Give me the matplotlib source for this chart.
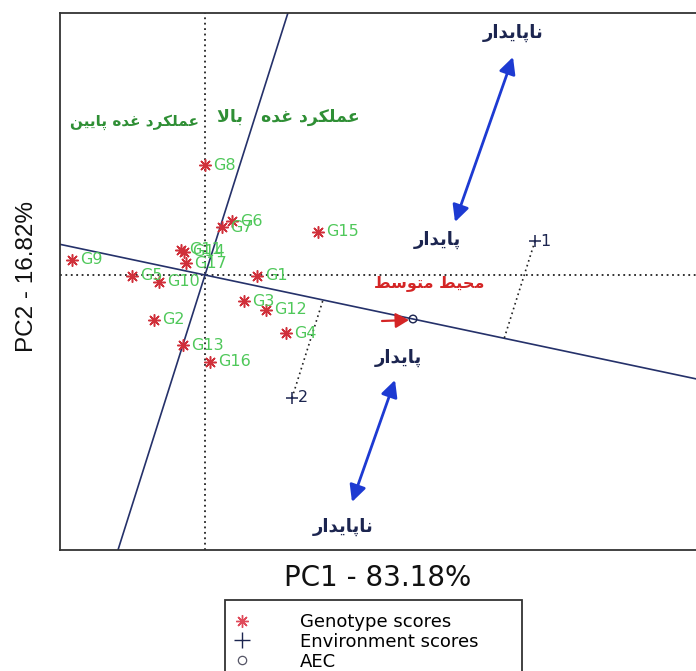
import matplotlib
matplotlib.use("Agg")
import matplotlib.pyplot as plt
from matplotlib.lines import Line2D
from matplotlib.patches import Rectangle
import numpy as np

# ---------------- data ----------------
genotypes = ["G1", "G2", "G3", "G4", "G5", "G6", "G7", "G8", "G9", "G10",
             "G11", "G12", "G13", "G14", "G15", "G16", "G17"]
gen_pc1 = [0.52, -0.51, 0.39, 0.81, -0.73, 0.27, 0.17, 0.00, -1.33, -0.46,
           -0.24, 0.61, -0.22, -0.21, 1.13, 0.05, -0.19]
gen_pc2 = [-0.01, -0.45, -0.26, -0.58, -0.01, 0.54, 0.48, 1.10, 0.15, -0.07,
           0.25, -0.35, -0.70, 0.23, 0.43, -0.87, 0.12]
environments = ["1", "2"]
env_pc1 = [3.30, 0.87]
env_pc2 = [0.34, -1.23]
aec_pc1 = [2.08]
aec_pc2 = [-0.44]
perp_slope = 3.16
x_label = "PC1 - 83.18%"
y_label = "PC2 - 16.82%"
legend_labels = ["Genotype scores", "Environment scores", "AEC"]

# ---------------- minimal Persian shaping ----------------
FORMS = {
    "\u0627": ("\uFE8D", "\uFE8E", None, None),
    "\u0628": ("\uFE8F", "\uFE90", "\uFE91", "\uFE92"),
    "\u067E": ("\uFB56", "\uFB57", "\uFB58", "\uFB59"),
    "\u062A": ("\uFE95", "\uFE96", "\uFE97", "\uFE98"),
    "\u062D": ("\uFEA1", "\uFEA2", "\uFEA3", "\uFEA4"),
    "\u062F": ("\uFEA9", "\uFEAA", None, None),
    "\u0631": ("\uFEAD", "\uFEAE", None, None),
    "\u0633": ("\uFEB1", "\uFEB2", "\uFEB3", "\uFEB4"),
    "\u0637": ("\uFEC1", "\uFEC2", "\uFEC3", "\uFEC4"),
    "\u0639": ("\uFEC9", "\uFECA", "\uFECB", "\uFECC"),
    "\u063A": ("\uFECD", "\uFECE", "\uFECF", "\uFED0"),
    "\u06A9": ("\uFB8E", "\uFB8F", "\uFB90", "\uFB91"),
    "\u0644": ("\uFEDD", "\uFEDE", "\uFEDF", "\uFEE0"),
    "\u0645": ("\uFEE1", "\uFEE2", "\uFEE3", "\uFEE4"),
    "\u0646": ("\uFEE5", "\uFEE6", "\uFEE7", "\uFEE8"),
    "\u0647": ("\uFEE9", "\uFEEA", "\uFEEB", "\uFEEC"),
    "\u0648": ("\uFEED", "\uFEEE", None, None),
    "\u06CC": ("\uFBFC", "\uFBFD", "\uFBFE", "\uFBFF"),
    "LA": ("\uFEFB", "\uFEFC", None, None),
}


def shape(text):
    chars = list(text)
    units = []
    i = 0
    while i < len(chars):
        if chars[i] == "\u0644" and i + 1 < len(chars) and chars[i + 1] == "\u0627":
            units.append("LA")
            i += 2
        else:
            units.append(chars[i])
            i += 1
    out = []
    for k, u in enumerate(units):
        if u not in FORMS:
            out.append(u)
            continue
        prev = units[k - 1] if k > 0 else None
        nxt = units[k + 1] if k + 1 < len(units) else None
        join_prev = prev in FORMS and FORMS[prev][2] is not None
        join_next = FORMS[u][2] is not None and nxt in FORMS
        iso, fin, ini, med = FORMS[u]
        if join_prev and join_next:
            out.append(med)
        elif join_prev:
            out.append(fin)
        elif join_next:
            out.append(ini)
        else:
            out.append(iso)
    return "".join(out)[::-1]


t_unstable = shape("ناپایدار")
t_stable = shape("پایدار")
t_high = shape("عملکرد غده   بالا")
t_low = shape("عملکرد غده پایین")
t_avg = shape("محیط متوسط")

# ---------------- figure ----------------
W, H = 696, 671
fig = plt.figure(figsize=(W / 100, H / 100), dpi=100)
plt.rcParams["font.family"] = ["DejaVu Sans"]

ax_l, ax_r, ax_t, ax_b = 60, 702, 13, 550
ax = fig.add_axes([ax_l / W, 1 - ax_b / H, (ax_r - ax_l) / W, (ax_b - ax_t) / H])
ox, oy = 205, 275
sc = 100.0
ax.set_xlim((ax_l - ox) / sc, (ax_r - ox) / sc)
ax.set_ylim((oy - ax_b) / sc, (oy - ax_t) / sc)
ax.set_xticks([])
ax.set_yticks([])
for s in ax.spines.values():
    s.set_color("#333333")
    s.set_linewidth(1.3)

navy = "#1c2550"
line_col = "#25316a"

# origin dotted lines
ax.axhline(0, color="#222222", lw=1.3, ls=(0, (1, 2)), zorder=1)
ax.axvline(0, color="#222222", lw=1.3, ls=(0, (1, 2)), zorder=1)

# AEC line and its perpendicular through the origin
xl = np.array(ax.get_xlim())
aec_slope = aec_pc2[0] / aec_pc1[0]
ax.plot(xl, aec_slope * xl, color=line_col, lw=1.2, zorder=2)
yl = np.array(ax.get_ylim())
ax.plot(yl / perp_slope, yl, color=line_col, lw=1.2, zorder=2)

# projections of environments onto AEC line along perpendicular direction
for ex, ey in zip(env_pc1, env_pc2):
    t = (aec_slope * ex - ey) / (perp_slope - aec_slope)
    px, py = ex + t, ey + perp_slope * t
    ax.plot([ex, px], [ey, py], color="#222222", lw=1.2, ls=(0, (1, 2)), zorder=2)

# genotypes
ax.scatter(gen_pc1, gen_pc2, marker=(8, 2, 0), s=70, color="#d0303a",
           linewidths=1.1, zorder=4)
for g, x, y in zip(genotypes, gen_pc1, gen_pc2):
    ax.annotate(g, (x, y), xytext=(6, 0), textcoords="offset points",
                va="center", ha="left", fontsize=11.5, color="#4fc85a", zorder=5)

# environments
ax.scatter(env_pc1, env_pc2, marker="+", s=80, color=navy, linewidths=1.1, zorder=4)
for e, x, y in zip(environments, env_pc1, env_pc2):
    ax.annotate(e, (x, y), xytext=(4, 0), textcoords="offset points",
                va="center", ha="left", fontsize=11.5, color=navy, zorder=5)

# AEC
ax.scatter(aec_pc1, aec_pc2, marker="o", s=30, facecolors="none",
           edgecolors=navy, linewidths=1.0, zorder=4)

# annotations
arrow_col = "#1d3ad2"
def d(px, py):
    return ((px - ox) / sc, (oy - py) / sc)

for a, b in [((455, 222), (513, 57)), ((395, 380), (352, 502))]:
    ax.annotate("", xy=d(*b), xytext=d(*a),
                arrowprops=dict(arrowstyle="<|-|>,head_length=1.0,head_width=0.5",
                                color=arrow_col, lw=2.0, shrinkA=0, shrinkB=0))

ax.annotate("", xy=d(409, 320), xytext=d(382, 321),
            arrowprops=dict(arrowstyle="-|>,head_length=0.8,head_width=0.45",
                            color="#d42525", lw=1.6, shrinkA=0, shrinkB=0))

fa = dict(fontweight="bold", ha="center", va="center")
ax.text(*d(513, 33), t_unstable, color=navy, fontsize=13, **fa)
ax.text(*d(437, 240), t_stable, color=navy, fontsize=13, **fa)
ax.text(*d(398, 358), t_stable, color=navy, fontsize=13, **fa)
ax.text(*d(343, 527), t_unstable, color=navy, fontsize=13, **fa)
ax.text(*d(429, 283), t_avg, color="#d42525", fontsize=11.5, **fa)
ax.text(*d(288, 117), t_high, color="#2f8f35", fontsize=12.5, **fa)
ax.text(*d(135, 122), t_low, color="#2f8f35", fontsize=11, **fa)

# axis labels
fig.text((ax_l + 318) / W, 1 - 578 / H, x_label, ha="center", va="center",
         fontsize=20, color="#111111")
fig.text(27 / W, 1 - 276 / H, y_label, ha="center", va="center",
         rotation=90, fontsize=17.5, color="#111111",
         family=["Liberation Sans", "DejaVu Sans"])

# legend
handles = [
    Line2D([], [], ls="none", marker=(8, 2, 0), ms=9, mec="#e04a5a", mew=1.0),
    Line2D([], [], ls="none", marker="+", ms=11, mec=navy, mew=1.0),
    Line2D([], [], ls="none", marker="o", ms=6, mfc="none", mec="#555566", mew=0.9),
]
leg = fig.legend(handles, legend_labels, loc="upper left",
                 bbox_to_anchor=(231 / W, 1 - 613 / H), frameon=False,
                 fontsize=13, labelspacing=0.1, handletextpad=2.6,
                 handlelength=1.2, borderpad=0, borderaxespad=0)
fig.patches.append(Rectangle((225 / W, -0.05), (522 - 225) / W, 0.05 + (671 - 600) / H,
                             transform=fig.transFigure, fill=False,
                             edgecolor="#333333", lw=1.3))

fig.savefig("out.png", dpi=100)
